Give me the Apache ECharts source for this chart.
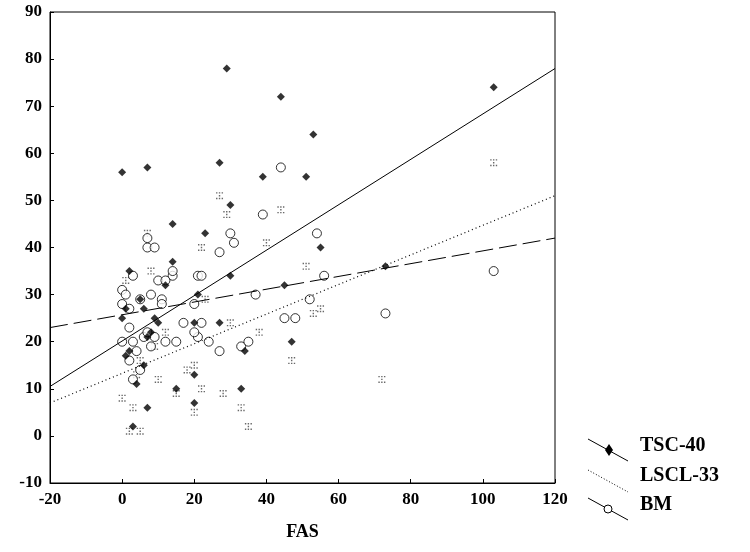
<!DOCTYPE html>
<html><head><meta charset="utf-8">
<script src="https://cdn.jsdelivr.net/npm/echarts@6/dist/echarts.min.js"></script>
<style>body{margin:0;background:#fff}#c{width:750px;height:552px}</style>
</head><body><div id="c"></div>
<script>
// points
let tscPoints = [[0,56],[7,57],[29,78],[44,72],[103,74],[53,64],[27,58],[39,55],[51,55],[30,49],[14,45],[23,43],[55,40],[14,37],[2,35],[45,32],[73,36],[30,34],[5,29],[1,27],[6,27],[9,25],[10,24],[20,24],[21,30],[27,24],[0,25],[7,21],[2,18],[1,17],[34,18],[47,20],[6,15],[4,11],[15,10],[33,10],[20,7],[7,6],[3,2],[20,13],[12,32],[8,22]];
let lsclPoints = [[103,58],[27,51],[29,47],[44,48],[40,41],[22,40],[7,43],[8,35],[1,33],[0,8],[3,6],[5,1],[2,1],[10,12],[15,9],[20,5],[22,10],[20,15],[33,6],[35,2],[47,16],[53,26],[55,27],[72,12],[38,22],[51,36],[30,24],[12,22],[23,29],[5,16],[9,19],[28,9],[4,13],[18,14]];
let bmPoints = [[0,28],[0,31],[1,30],[3,34],[7,40],[7,42],[9,40],[44,57],[39,47],[54,43],[30,43],[31,41],[27,39],[56,34],[103,35],[73,26],[52,29],[45,25],[48,25],[37,30],[33,19],[35,20],[27,18],[21,34],[22,34],[20,28],[22,24],[24,20],[21,21],[12,20],[15,20],[14,34],[14,35],[10,33],[11,29],[5,29],[2,27],[2,23],[0,20],[3,20],[4,18],[6,21],[7,22],[9,21],[8,19],[5,14],[3,12],[11,28],[8,30],[12,33],[17,24],[20,22],[2,16]];
// fit lines (endpoints at x=-20 and x=120)
let tscFit = [[-20,10.5],[120,78]];
let lsclFit = [[-20,7],[120,51]];
let bmFit = [[-20,23],[120,42]];

let font = 'Liberation Serif';
let chart = echarts.init(document.getElementById('c'));
let axisLabel = {color:'#000',fontFamily:font,fontWeight:'bold',fontSize:17};
chart.setOption({
    animation:false,
    grid:{left:50,right:195,top:12,bottom:69,show:true,borderColor:'#000',borderWidth:1},
    xAxis:{type:'value',min:-20,max:120,interval:20,name:'FAS',nameLocation:'middle',nameGap:40,
        nameTextStyle:{color:'#000',fontFamily:font,fontWeight:'bold',fontSize:18},
        axisLine:{onZero:false,lineStyle:{color:'#000'}},axisTick:{inside:true,length:4,lineStyle:{color:'#000'}},
        axisLabel:axisLabel,splitLine:{show:false}},
    yAxis:{type:'value',min:-10,max:90,interval:10,
        axisLine:{show:true,onZero:false,lineStyle:{color:'#000'}},axisTick:{show:true,inside:true,length:4,lineStyle:{color:'#000'}},
        axisLabel:axisLabel,splitLine:{show:false}},
    series:[
        {type:'scatter',data:lsclPoints,symbol:'path://M0,0h1v1h-1zM2,2h1v1h-1zM4,0h1v1h-1zM0,4h1v1h-1zM4,4h1v1h-1zM2,0h1v1h-1zM2,4h1v1h-1z',symbolSize:7,itemStyle:{color:'#444'}},
        {type:'scatter',data:bmPoints,symbol:'circle',symbolSize:9,itemStyle:{color:'#fff',borderColor:'#000',borderWidth:1}},
        {type:'scatter',data:tscPoints,symbol:'diamond',symbolSize:8,itemStyle:{color:'#000'}},
        {type:'line',data:tscFit,symbol:'none',lineStyle:{color:'#000',width:1}},
        {type:'line',data:lsclFit,symbol:'none',lineStyle:{color:'#000',width:1.2,type:[1,3]}},
        {type:'line',data:bmFit,symbol:'none',lineStyle:{color:'#000',width:1,type:[18,6]}}
    ],
    graphic:[
        {type:'line',shape:{x1:588,y1:439,x2:628,y2:461},style:{stroke:'#000',lineWidth:1}},
        {type:'polygon',shape:{points:[[609,444],[613,450],[609,456],[605,450]]},style:{fill:'#000'}},
        {type:'text',left:640,top:436,style:{text:'TSC-40',font:'bold 20px "Liberation Serif"',fill:'#000'}},
        {type:'line',shape:{x1:588,y1:470,x2:628,y2:492},style:{stroke:'#000',lineWidth:1,lineDash:[1,2]}},
        {type:'text',left:640,top:466,style:{text:'LSCL-33',font:'bold 20px "Liberation Serif"',fill:'#000'}},
        {type:'line',shape:{x1:588,y1:498,x2:628,y2:520},style:{stroke:'#000',lineWidth:1}},
        {type:'circle',shape:{cx:608,cy:509,r:4},style:{fill:'#fff',stroke:'#000'}},
        {type:'text',left:640,top:495,style:{text:'BM',font:'bold 20px "Liberation Serif"',fill:'#000'}}
    ]
});
</script></body></html>
